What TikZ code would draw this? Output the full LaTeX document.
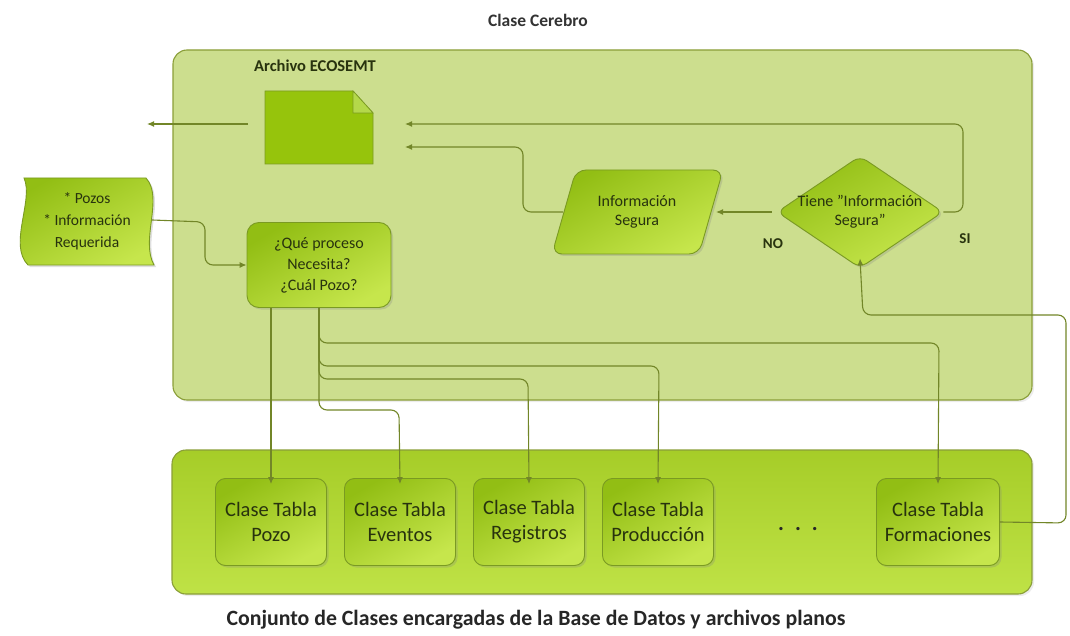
\documentclass[tikz,border=0pt]{standalone}
\usepackage{fontspec}
\setmainfont{Carlito}
\usetikzlibrary{arrows.meta,shapes.geometric,shadows}
\definecolor{lineC}{HTML}{728628}
\definecolor{txtC}{HTML}{28330E}
\definecolor{contTop}{HTML}{CCDE8E}
\definecolor{contBorder}{HTML}{8A9E38}
\definecolor{lowTop}{HTML}{A6CD28}
\definecolor{lowBot}{HTML}{BFE246}
\definecolor{nodeA}{HTML}{92BE14}
\definecolor{nodeB}{HTML}{C6E64C}
\definecolor{nodeBorder}{HTML}{7A9A22}
\definecolor{docC}{HTML}{96C40C}
\definecolor{foldC}{HTML}{B4D84A}
\tikzset{
  conn/.style={draw=lineC, line width=1.1pt, rounded corners=8pt},
  arr/.style={-{Latex[length=7pt,width=6pt]}},
  flownode/.style={draw=nodeBorder, line width=0.9pt, top color=nodeA, bottom color=nodeB, shading angle=30,
     drop shadow={opacity=0.25, shadow xshift=2pt, shadow yshift=-2pt}},
  lbl/.style={text=txtC, align=center, font=\fontsize{16}{19}\selectfont},
  classbox/.style={flownode, rounded corners=10pt, minimum width=111pt, minimum height=87pt, inner sep=0pt,
     text=txtC, align=center, font=\fontsize{20.5}{25}\selectfont},
}
\begin{document}
\begin{tikzpicture}[x=1pt,y=-1pt]
\useasboundingbox (0,0) rectangle (1070,636);
% title
\node[text=black!80, font=\bfseries\fontsize{17.5}{20}\selectfont] (title) at (538,20) {Clase Cerebro};
% containers
\path[draw=contBorder, line width=1.1pt, fill=contTop, rounded corners=14pt,
      drop shadow={opacity=0.15, shadow xshift=2pt, shadow yshift=-2pt}] (173,50) rectangle (1032,400);
\path[draw=contBorder, line width=1.1pt, top color=lowTop, bottom color=lowBot, rounded corners=14pt,
      drop shadow={opacity=0.15, shadow xshift=2pt, shadow yshift=-2pt}] (172,450) rectangle (1032,594);
% document
\node[text=txtC, font=\bfseries\fontsize{16.5}{18}\selectfont] (archlbl) at (315,66) {Archivo ECOSEMT};
\path[draw=nodeBorder, line width=0.9pt, fill=docC] (265,91) -- (353,91) -- (373,113) -- (373,164) -- (265,164) -- cycle;
\path[draw=nodeBorder, line width=0.6pt, fill=foldC] (353,91) -- (353,113) -- (373,113) -- cycle;
\coordinate (doc) at (319,127);
\coordinate (outL) at (147,124);
\coordinate (outR) at (248,124);
\coordinate (inA) at (405,124);
\coordinate (inB) at (405,147);
% input
\path[draw=nodeBorder, line width=0.9pt, top color=nodeA, bottom color=nodeB, shading angle=30,
      drop shadow={opacity=0.25, shadow xshift=2pt, shadow yshift=-2pt}]
  (24,178) -- (146,178) .. controls (164,198) and (140,240) .. (154,265) -- (28,265)
  .. controls (8,245) and (34,200) .. (24,178) -- cycle;
\node[lbl, font=\fontsize{15.5}{22}\selectfont, minimum width=130pt, minimum height=87pt] (inp) at (87,221)
  {* Pozos\\* Información\\Requerida};
% question box
\node[flownode, lbl, rounded corners=12pt, minimum width=144pt, minimum height=85pt, font=\fontsize{16}{21}\selectfont] (q) at (319,265)
  {¿Qué proceso\\Necesita?\\¿Cuál Pozo?};
% parallelogram
\path[draw=nodeBorder, line width=0.9pt, top color=nodeA, bottom color=nodeB, shading angle=30, rounded corners=10pt,
      drop shadow={opacity=0.25, shadow xshift=2pt, shadow yshift=-2pt}]
  (552,254) -- (576,170) -- (723,170) -- (699,254) -- cycle;
\node[lbl] (par) at (637,212) {Información\\Segura};
\coordinate (parR) at (716,212);
\coordinate (parL) at (563,212);
% diamond
\node[flownode, shape=diamond, rounded corners=8pt, minimum width=166pt, minimum height=112pt, inner sep=0pt] (dia) at (860,212) {};
\node[lbl] (dialbl) at (860,212) {Tiene "Información\\Segura"};
\node[text=txtC, font=\bfseries\fontsize{15}{18}\selectfont] (no) at (773,244) {NO};
\node[text=txtC, font=\bfseries\fontsize{15}{18}\selectfont] (si) at (965,239) {SI};
% class boxes
\node[classbox] (pozo) at (271,522) {Clase Tabla\\Pozo};
\node[classbox] (eventos) at (400,522) {Clase Tabla\\Eventos};
\node[classbox] (registros) at (529,522) {Clase Tabla\\Registros};
\node[classbox] (produccion) at (658,522) {Clase Tabla\\Producción};
\node[classbox, minimum width=123pt] (formaciones) at (938,522) {Clase Tabla\\Formaciones};
\node[text=black!85, font=\bfseries\fontsize{22}{22}\selectfont] (dots) at (798,529) {.\hspace{11pt}.\hspace{11pt}.};
% caption
\node[text=black!85, font=\bfseries\fontsize{21.8}{26}\selectfont] (caption) at (536,620)
  {Conjunto de Clases encargadas de la Base de Datos y archivos planos};
% connectors
\draw[conn, arr] (outR) -- (outL);
\draw[conn, arr] ([yshift=1pt]inp.east) -- (205,222) -- (205,265) -- (q.west);
\draw[conn, arr] (dia.east) -- (963,212) -- (963,124) -- (inA);
\draw[conn, arr] (parL) -- (523,212) -- (523,147) -- (inB);
\draw[conn, arr] ([xshift=-5pt]dia.west) -- (parR);
\draw[conn, arr] (formaciones.east) -- (1066,523) -- (1066,315) -- (863,315) -- ([yshift=10pt]dia.south);
\draw[conn, arr] ([xshift=-48pt]q.south) -- ([yshift=-6pt]pozo.north);
\draw[conn, arr] (q.south) -- (319,343) -- (939,343) -- ([yshift=-6pt]formaciones.north);
\draw[conn, arr] (q.south) -- (319,366) -- (659,366) -- ([yshift=-6pt]produccion.north);
\draw[conn, arr] (q.south) -- (319,379) -- (528,379) -- ([yshift=-6pt]registros.north);
\draw[conn, arr] (q.south) -- (319,410) -- (399,410) -- ([yshift=-6pt]eventos.north);
\end{tikzpicture}
\end{document}
